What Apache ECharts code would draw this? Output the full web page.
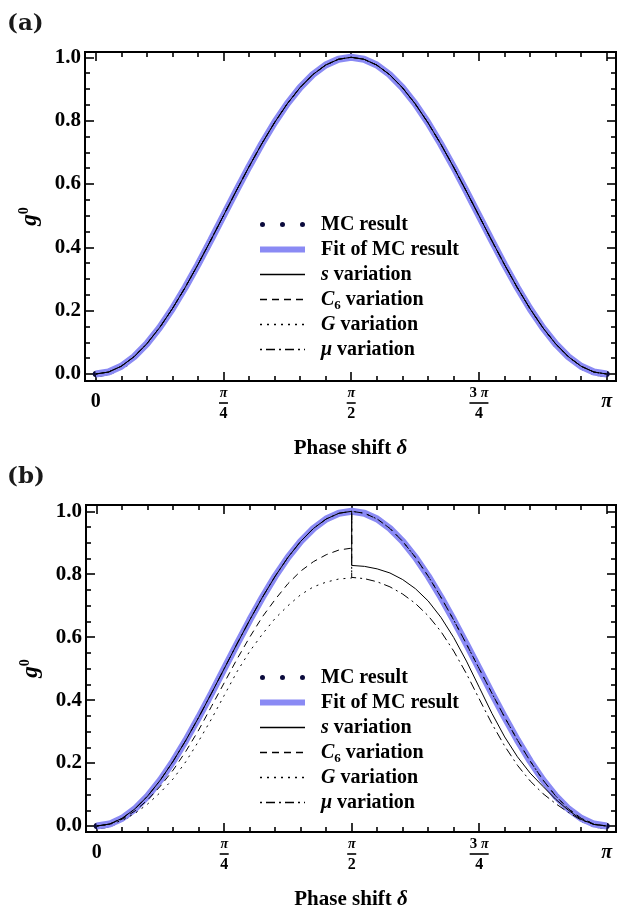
<!DOCTYPE html>
<html>
<head>
<meta charset="utf-8">
<script src="https://cdn.jsdelivr.net/npm/echarts@6/dist/echarts.min.js"></script>
<style>
  html, body { margin: 0; padding: 0; background: #fff; }
  #chart { width: 618px; height: 911px; }
</style>
</head>
<body>
<div id="chart"></div>
<script>
// phase shift samples (rad), 0 .. pi
const phase = [0, 0.0785, 0.1571, 0.2356, 0.3142, 0.3927, 0.4712, 0.5498, 0.6283, 0.7069,
  0.7854, 0.8639, 0.9425, 1.0210, 1.0996, 1.1781, 1.2566, 1.3352, 1.4137, 1.4923,
  1.5708, 1.6493, 1.7279, 1.8064, 1.8850, 1.9635, 2.0420, 2.1206, 2.1991, 2.2777,
  2.3562, 2.4347, 2.5133, 2.5918, 2.6704, 2.7489, 2.8274, 2.9060, 2.9845, 3.0631, 3.1416];

// fit of MC result
const fitCurve = [0, 0.0062, 0.0245, 0.0545, 0.0955, 0.1464, 0.2061, 0.2730, 0.3455, 0.4218,
  0.5, 0.5782, 0.6545, 0.7270, 0.7939, 0.8536, 0.9045, 0.9455, 0.9755, 0.9938,
  1.0, 0.9938, 0.9755, 0.9455, 0.9045, 0.8536, 0.7939, 0.7270, 0.6545, 0.5782,
  0.5, 0.4218, 0.3455, 0.2730, 0.2061, 0.1464, 0.0955, 0.0545, 0.0245, 0.0062, 0];

// MC points
const mcPhase = [0, 0.005, 0.012, 0.02, 0.03, 0.045, 0.06, 0.095, 0.18, 0.685,
  2.83, 3.005, 3.06, 3.09, 3.11, 3.125, 3.135, 3.1416];
const mcValue = [0, 0.00003, 0.00014, 0.0004, 0.0009, 0.002, 0.0036, 0.009, 0.0318, 0.400,
  0.094, 0.0186, 0.0067, 0.0027, 0.001, 0.0003, 0.00004, 0];

// panel (b): the halves that leave the fit
const c6Left = [0, 0.006, 0.022, 0.048, 0.083, 0.127, 0.178, 0.238, 0.305, 0.38,
  0.455, 0.53, 0.60, 0.665, 0.72, 0.77, 0.81, 0.84, 0.862, 0.877, 0.883];
const gLeft = [0, 0.005, 0.018, 0.04, 0.07, 0.107, 0.15, 0.205, 0.27, 0.34,
  0.415, 0.49, 0.555, 0.61, 0.66, 0.70, 0.735, 0.76, 0.775, 0.785, 0.788];
const sRight = [0.828, 0.825, 0.817, 0.804, 0.783, 0.754, 0.715, 0.663, 0.599, 0.524,
  0.441, 0.358, 0.283, 0.220, 0.168, 0.126, 0.085, 0.050, 0.021, 0.005, 0];
const muRight = [0.790, 0.786, 0.776, 0.760, 0.737, 0.707, 0.668, 0.618, 0.556, 0.484,
  0.404, 0.325, 0.254, 0.193, 0.143, 0.103, 0.071, 0.043, 0.019, 0.005, 0];

const xTickValues = [0, Math.PI / 4, Math.PI / 2, 3 * Math.PI / 4, Math.PI];
const xTickLabels = ['{z|0}', '{n|π}\n{bar|}\n{d|4}', '{n|π}\n{bar|}\n{d|2}',
  '{n3|3 }{n|π}\n{bar3|}\n{d|4}', '{pi|π}'];
const yTickValues = [0, 0.2, 0.4, 0.6, 0.8, 1.0];

const xMinor = [];
for (let k = 0; k <= 20; k++) if (k % 5) xMinor.push(k * Math.PI / 20);
const yMinor = [];
for (let k = 0; k <= 20; k++) if (k % 4) yMinor.push(k * 0.05);

const serif = 'Liberation Serif';
const black = '#000';
const fitColor = '#8a8af4';
const dotColor = '#0b0b3c';

function pairs(xs, ys) { return xs.map((x, i) => [x, ys[i]]); }
const leftPh = phase.slice(0, 21), rightPh = phase.slice(20);
const leftFit = fitCurve.slice(0, 21), rightFit = fitCurve.slice(20);

const grid = [], xAxis = [], yAxis = [], series = [], legend = [], title = [];

function tick(len, vals) {
  return { show: true, inside: true, length: len, customValues: vals, lineStyle: { color: black, width: 1.6 } };
}

function panel(top, left, width, yMin, yMax, lines, letter) {
  const gi = grid.length;
  grid.push({ left: left, top: top, width: width, height: 329, show: true, borderColor: black, borderWidth: 2 });
  const xi = xAxis.length, yi = yAxis.length;
  const xBase = { type: 'value', gridIndex: gi, min: -0.066, max: 3.199,
    axisLine: { show: false, onZero: false }, splitLine: { show: false } };
  xAxis.push(Object.assign({}, xBase, {
    position: 'bottom', axisTick: tick(9, xTickValues),
    axisLabel: {
      customValues: xTickValues, margin: 23, verticalAlign: 'middle', color: black,
      formatter: v => xTickLabels[xTickValues.findIndex(t => Math.abs(t - v) < 1e-6)] || '',
      rich: {
        z: { fontFamily: serif, fontWeight: 'bold', fontSize: 20, padding: [0, 0, 5, 0], color: black },
        pi: { fontFamily: serif, fontWeight: 'bold', fontStyle: 'italic', fontSize: 20, padding: [0, 0, 5, 0], color: black },
        n: { fontFamily: serif, fontWeight: 'bold', fontStyle: 'italic', fontSize: 14, lineHeight: 13, color: black },
        n3: { fontFamily: serif, fontWeight: 'bold', fontSize: 15, lineHeight: 13, color: black },
        bar: { width: 9, height: 1.6, lineHeight: 7, backgroundColor: black },
        bar3: { width: 19, height: 1.6, lineHeight: 7, backgroundColor: black },
        d: { fontFamily: serif, fontWeight: 'bold', fontSize: 16, lineHeight: 15, color: black }
      }
    },
    name: '{b|Phase shift }{i|δ}', nameLocation: 'middle', nameGap: 57,
    nameTextStyle: { rich: {
      b: { fontFamily: serif, fontWeight: 'bold', fontSize: 21, color: black },
      i: { fontFamily: serif, fontWeight: 'bold', fontStyle: 'italic', fontSize: 21, color: black } } }
  }));
  xAxis.push(Object.assign({}, xBase, { position: 'bottom', axisTick: tick(5, xMinor), axisLabel: { show: false } }));
  xAxis.push(Object.assign({}, xBase, { position: 'top', axisTick: tick(9, xTickValues), axisLabel: { show: false } }));
  xAxis.push(Object.assign({}, xBase, { position: 'top', axisTick: tick(5, xMinor), axisLabel: { show: false } }));

  const yBase = { type: 'value', gridIndex: gi, min: yMin, max: yMax,
    axisLine: { show: false, onZero: false }, splitLine: { show: false } };
  yAxis.push(Object.assign({}, yBase, {
    position: 'left', axisTick: tick(9, yTickValues),
    axisLabel: { customValues: yTickValues, margin: 4, formatter: v => v.toFixed(1),
      fontFamily: serif, fontWeight: 'bold', fontSize: 21, color: black },
    name: '{g|g}{s|0}', nameLocation: 'middle', nameRotate: 90, nameGap: 42,
    nameTextStyle: { rich: {
      g: { fontFamily: serif, fontWeight: 'bold', fontStyle: 'italic', fontSize: 23, lineHeight: 26, color: black },
      s: { fontFamily: serif, fontWeight: 'bold', fontSize: 14, lineHeight: 13, verticalAlign: 'top', color: black } } }
  }));
  yAxis.push(Object.assign({}, yBase, { position: 'left', axisTick: tick(5, yMinor), axisLabel: { show: false } }));
  yAxis.push(Object.assign({}, yBase, { position: 'right', axisTick: tick(9, yTickValues), axisLabel: { show: false } }));
  yAxis.push(Object.assign({}, yBase, { position: 'right', axisTick: tick(5, yMinor), axisLabel: { show: false } }));

  const line = (name, data, style) => ({
    name: name, type: 'line', xAxisIndex: xi, yAxisIndex: yi, data: data, symbol: 'none',
    silent: true, animation: false, lineStyle: style, itemStyle: { color: style.color, opacity: 0 }
  });
  series.push(line('Fit of MC result', pairs(phase, fitCurve), { color: fitColor, width: 7 }));
  series.push(line('s variation', lines.s, { color: black, width: 1 }));
  series.push(line('C6 variation', lines.c6, { color: black, width: 1, type: [7, 5] }));
  series.push(line('G variation', lines.g, { color: black, width: 1, type: [2, 5] }));
  series.push(line('μ variation', lines.mu, { color: black, width: 1, type: [2, 4, 9, 4] }));
  series.push({
    name: 'MC result', type: 'scatter', xAxisIndex: xi, yAxisIndex: yi, data: pairs(mcPhase, mcValue),
    symbolSize: 6, itemStyle: { color: dotColor, opacity: 1 }, silent: true, animation: false
  });

  const dots = 'path://M0,2.5a2.5,2.5 0 1,0 5,0a2.5,2.5 0 1,0 -5,0zM20,2.5a2.5,2.5 0 1,0 5,0a2.5,2.5 0 1,0 -5,0zM40,2.5a2.5,2.5 0 1,0 5,0a2.5,2.5 0 1,0 -5,0z';
  legend.push({
    orient: 'vertical', left: 257, top: top + 160, padding: 0, itemGap: 0, itemWidth: 45, itemHeight: 5,
    selectedMode: false,
    data: [
      { name: 'MC result', icon: dots, itemStyle: { color: dotColor, opacity: 1 } },
      { name: 'Fit of MC result', lineStyle: { width: 6 } },
      { name: 's variation', lineStyle: { width: 1.3 } },
      { name: 'C6 variation', lineStyle: { width: 1.3 } },
      { name: 'G variation', lineStyle: { width: 1.3 } },
      { name: 'μ variation', lineStyle: { width: 1.3 } }
    ],
    formatter: function (name) {
      if (name === 's variation') return '{i|s}{b| variation}';
      if (name === 'C6 variation') return '{i|C}{sub|6}{b| variation}';
      if (name === 'G variation') return '{i|G}{b| variation}';
      if (name === 'μ variation') return '{i|μ}{b| variation}';
      return '{b|' + name + '}';
    },
    textStyle: { padding: [0, 0, 0, 11], lineHeight: 25, rich: {
      b: { fontFamily: serif, fontWeight: 'bold', fontSize: 20, lineHeight: 25, color: black },
      i: { fontFamily: serif, fontWeight: 'bold', fontStyle: 'italic', fontSize: 20, lineHeight: 25, color: black },
      sub: { fontFamily: serif, fontWeight: 'bold', fontSize: 13, lineHeight: 14, verticalAlign: 'bottom', color: black } } }
  });
  title.push({ text: letter, left: 7, top: top - 39, padding: 0,
    textStyle: { fontFamily: 'DejaVu Serif', fontWeight: 'bold', fontSize: 23, color: '#1a1a1a' } });
}

const sameAsFit = pairs(phase, fitCurve);
panel(52, 85, 531, -0.0221, 1.0167, { s: sameAsFit, c6: sameAsFit, g: sameAsFit, mu: sameAsFit }, '(a)');
panel(505, 86, 530, -0.019, 1.020, {
  s: pairs(leftPh, leftFit).concat(pairs(rightPh, sRight)),
  c6: pairs(leftPh, c6Left).concat(pairs(rightPh, rightFit)),
  g: pairs(leftPh, gLeft).concat(pairs(rightPh, rightFit)),
  mu: pairs(leftPh, leftFit).concat(pairs(rightPh, muRight))
}, '(b)');

const chart = echarts.init(document.getElementById('chart'));
chart.setOption({
  backgroundColor: '#fff',
  animation: false,
  title: title,
  grid: grid,
  xAxis: xAxis,
  yAxis: yAxis,
  legend: legend,
  series: series
});
</script>
</body>
</html>
